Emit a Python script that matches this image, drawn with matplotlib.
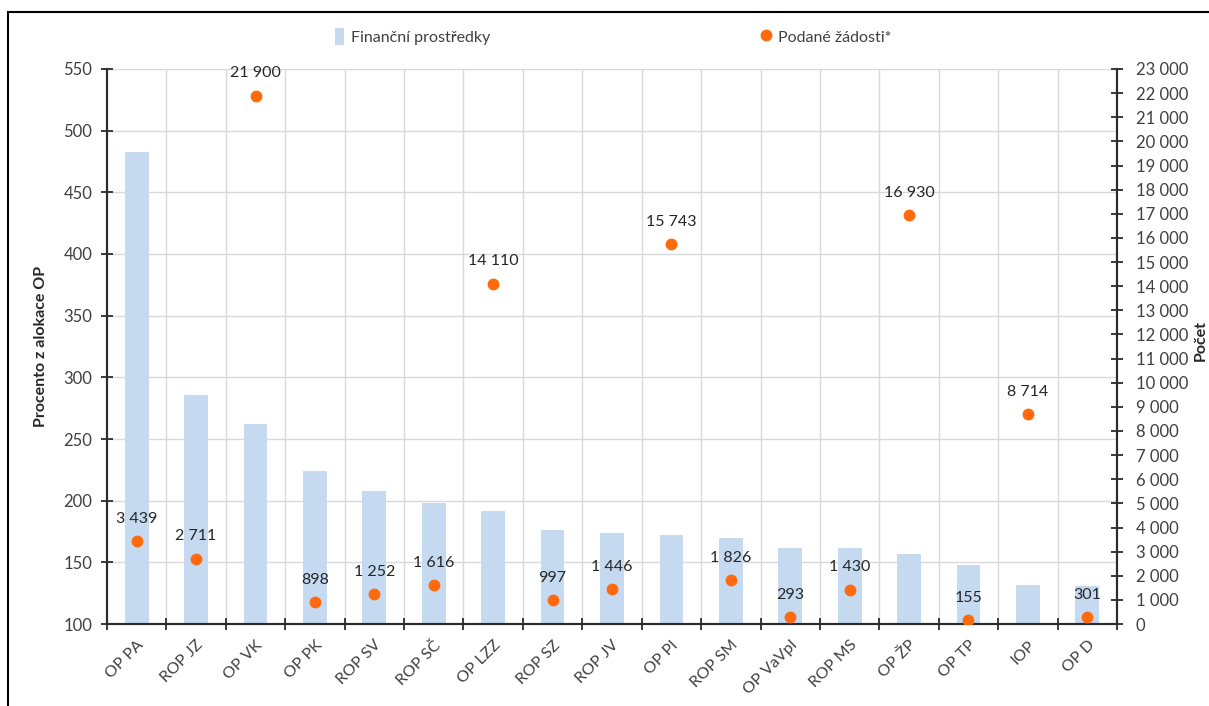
import numpy as np
import matplotlib.pyplot as plt
from matplotlib.patches import Rectangle

plt.rcParams['font.family'] = ['Lato', 'DejaVu Sans']

programy = ['OP PA', 'ROP JZ', 'OP VK', 'OP PK', 'ROP SV', 'ROP SČ', 'OP LZZ', 'ROP SZ',
            'ROP JV', 'OP PI', 'ROP SM', 'OP VaVpI', 'ROP MS', 'OP ŽP', 'OP TP', 'IOP', 'OP D']
financni = [483, 286, 262, 224, 208, 198, 192, 176, 174, 172, 170, 162, 162, 157, 148, 132, 131]
zadosti = [3439, 2711, 21900, 898, 1252, 1616, 14110, 997, 1446, 15743, 1826, 293, 1430,
           16930, 155, 8714, 301]

bar_col = '#c5daf1'
dot_col = '#ff6a0d'
txt_col = '#404040'
spine_col = '#2b2b2b'

def fmt(v):
    return '{:,}'.format(int(v)).replace(',', ' ')

fig = plt.figure(figsize=(12.09, 7.06), dpi=100)
ax1 = fig.add_axes([0.0885, 0.1161, 0.8354, 0.7862])
ax2 = ax1.twinx()

x = np.arange(len(programy))
b = ax1.bar(x, [v - 100 for v in financni], bottom=100, width=0.4, color=bar_col,
            zorder=2, label='Finanční prostředky')
ax1.set_ylim(100, 550)
ax1.set_xlim(-0.5, len(programy) - 0.5)
ax1.set_yticks(np.arange(100, 551, 50))

# grid: horizontal on left ticks, vertical at category boundaries
for yv in np.arange(150, 551, 50):
    ax1.axhline(yv, color='#d9d9d9', lw=1, zorder=0)
for xv in np.arange(0.5, len(programy) - 0.5, 1):
    ax1.axvline(xv, color='#d9d9d9', lw=1, zorder=0)

ax1.set_xticks(np.arange(-0.5, len(programy) + 0.5, 1))
ax1.set_xticklabels([])
ax1.set_xticks(x, minor=True)
ax1.set_xticklabels(programy, minor=True, rotation=45, ha='right', rotation_mode='anchor',
                    fontsize=11.5, color=txt_col)
ax1.tick_params(axis='x', which='minor', length=0, pad=10)
ax1.tick_params(axis='x', which='major', direction='inout', length=9, width=1.3, color=spine_col)
ax1.tick_params(axis='y', direction='inout', length=9, width=1.3, color=spine_col,
                labelsize=12, labelcolor=txt_col, pad=6)
ax1.set_ylabel('Procento z alokace OP', fontsize=11.5, fontweight='bold', color='#262626')
ax1.yaxis.set_label_coords(-0.058, 0.5)

d, = ax2.plot(x, zadosti, 'o', color=dot_col, markersize=7.5, zorder=5, label='Podané žádosti*')
ax2.set_ylim(0, 23000)
ax2.set_yticks(np.arange(0, 23001, 1000))
ax2.set_yticklabels([fmt(v) for v in np.arange(0, 23001, 1000)])
ax2.tick_params(axis='y', direction='inout', length=9, width=1.3, color=spine_col,
                labelsize=12, labelcolor=txt_col, pad=9)
ax2.set_ylabel('Počet', fontsize=11.5, fontweight='bold', color='#262626', rotation=90)
ax2.yaxis.set_label_coords(1.076, 0.51)

for xi, v in zip(x, zadosti):
    ax2.annotate(fmt(v), (xi, v), xytext=(0, 16), textcoords='offset points',
                 ha='center', va='center', fontsize=11.5, color='#262626', zorder=6)

for ax in (ax1, ax2):
    ax.spines['top'].set_visible(False)
    for s in ('left', 'right', 'bottom'):
        ax.spines[s].set_color(spine_col)
        ax.spines[s].set_linewidth(1.5)
ax1.set_zorder(ax2.get_zorder() - 1)
ax2.patch.set_visible(False)
ax1.patch.set_visible(True)

fig.legend([b, d], ['Finanční prostředky', 'Podané žádosti*'], loc='center',
           bbox_to_anchor=(0.507, 0.948), ncol=2, frameon=False, fontsize=11.5,
           columnspacing=17, handlelength=0.6, handleheight=1.3, handletextpad=0.4,
           labelcolor=txt_col)

fig.patches.append(Rectangle((8 / 1209, -0.1), 1.2, 0.1 + 1 - 12 / 706,
                             transform=fig.transFigure, fill=False, edgecolor='black', lw=1.5))

fig.savefig('out.png', dpi=100)
